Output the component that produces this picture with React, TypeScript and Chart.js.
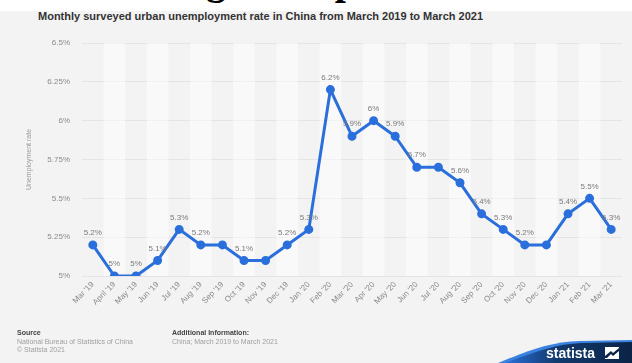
import React, { useEffect, useRef } from "react";
import { Chart, registerables } from "chart.js";

Chart.register(...registerables);

const categories = [
  "Mar '19", "April '19", "May '19", "Jun '19", "Jul '19", "Aug '19", "Sep '19", "Oct '19", "Nov '19",
  "Dec '19", "Jan '20", "Feb '20", "Mar '20", "Apr '20", "May '20", "Jun '20", "Jul '20", "Aug '20",
  "Sep '20", "Oct '20", "Nov '20", "Dec '20", "Jan '21", "Feb '21", "Mar '21",
];
const rates = [
  5.2, 5.0, 5.0, 5.1, 5.3, 5.2, 5.2, 5.1, 5.1, 5.2, 5.3, 6.2, 5.9, 6.0, 5.9, 5.7, 5.7, 5.6, 5.4, 5.3,
  5.2, 5.2, 5.4, 5.5, 5.3,
];
const showLabel = [
  true, true, true, true, true, true, false, true, false, true, true, true, true, true, true, true,
  false, true, true, true, true, false, true, true, true,
];
const yTicks = [5, 5.25, 5.5, 5.75, 6, 6.25, 6.5];

const fmt = (v: number) => `${Number(v.toFixed(2))}%`;

const bandsPlugin = {
  id: "bands",
  beforeDatasetsDraw(chart: any) {
    const { ctx, chartArea, scales } = chart;
    const x = scales.x;
    ctx.save();
    for (let i = 0; i < categories.length; i++) {
      if (i % 2 === 1) {
        const c = x.getPixelForValue(i);
        const w = x.width / categories.length;
        ctx.fillStyle = "rgba(255,255,255,0.5)";
        ctx.fillRect(c - w / 2, chartArea.top, w, chartArea.bottom - chartArea.top);
      }
    }
    ctx.restore();
  },
};

const labelsPlugin = {
  id: "pointLabels",
  afterDatasetsDraw(chart: any) {
    const { ctx } = chart;
    const meta = chart.getDatasetMeta(0);
    ctx.save();
    ctx.font = "8px 'Liberation Sans', Arial, sans-serif";
    ctx.fillStyle = "#7a7a7a";
    ctx.textAlign = "center";
    ctx.textBaseline = "bottom";
    meta.data.forEach((pt: any, i: number) => {
      if (!showLabel[i]) return;
      ctx.fillText(fmt(rates[i]), pt.x, pt.y - 8);
    });
    ctx.restore();
  },
};

function LineChart() {
  const ref = useRef<HTMLCanvasElement>(null);
  useEffect(() => {
    if (!ref.current) return;
    const chart = new Chart(ref.current, {
      type: "line",
      data: {
        labels: categories,
        datasets: [
          {
            data: rates,
            borderColor: "#2a6fdb",
            backgroundColor: "#2a6fdb",
            borderWidth: 3,
            pointRadius: 3,
            pointHoverRadius: 3,
            tension: 0,
          },
        ],
      },
      options: {
        animation: false,
        responsive: false,
        maintainAspectRatio: false,
        layout: { padding: { top: 43, right: 10, left: 0, bottom: 0 } },
        plugins: { legend: { display: false }, tooltip: { enabled: false } },
        scales: {
          x: {
            offset: true,
            grid: { display: false, drawTicks: false },
            border: { display: false },
            ticks: {
              minRotation: 45,
              maxRotation: 45,
              autoSkip: false,
              padding: 4,
              color: "#8a8a8a",
              font: { size: 8, family: "'Liberation Sans', Arial, sans-serif" },
            },
            afterFit(scale: any) {
              scale.height = 87;
            },
          },
          y: {
            min: 5,
            max: 6.5,
            afterBuildTicks(scale: any) {
              scale.ticks = yTicks.map((v) => ({ value: v }));
            },
            grid: { color: "#e4e4e4", drawTicks: false, lineWidth: 1 },
            border: { display: false },
            ticks: {
              padding: 12,
              color: "#8a8a8a",
              font: { size: 8, family: "'Liberation Sans', Arial, sans-serif" },
              callback: (v: any) => fmt(Number(v)),
            },
            title: {
              display: true,
              text: "Unemployment rate",
              color: "#9a9a9a",
              font: { size: 7, family: "'Liberation Sans', Arial, sans-serif" },
              padding: { top: 25, bottom: 0 },
            },
            afterFit(scale: any) {
              scale.width = 82;
            },
          },
        },
      },
      plugins: [bandsPlugin, labelsPlugin],
    });
    return () => chart.destroy();
  }, []);
  return (
    <canvas
      ref={ref}
      width={632}
      height={363}
      style={{ position: "absolute", left: 0, top: 0, width: 632, height: 363 }}
    />
  );
}

export default function App() {
  const sans = "'Liberation Sans', Arial, sans-serif";
  return (
    <div
      style={{
        position: "fixed",
        left: 0,
        top: 0,
        width: 632,
        height: 363,
        overflow: "hidden",
        background: "#ffffff",
      }}
    >
      <div
        style={{
          position: "absolute",
          left: 0,
          top: 0,
          height: 11,
          width: 632,
          overflow: "hidden",
        }}
      >
        <div
          style={{
            position: "absolute",
            left: 0,
            top: -39,
            width: 632,
            height: 40,
            fontFamily: "'Liberation Serif', 'Times New Roman', serif",
            fontWeight: "bold",
            fontSize: 40,
            lineHeight: "40px",
            whiteSpace: "nowrap",
            color: "#000",
          }}
        >
          <span style={{ position: "absolute", right: 632 - 226, top: 0 }}>Chart Rendering</span>
          <span style={{ position: "absolute", left: 268, top: 0 }}>Output</span>
        </div>
      </div>
      <div style={{ position: "absolute", left: 0, top: 11, width: 632, height: 352, background: "#f3f3f3" }} />
      <div
        style={{
          position: "absolute",
          left: 38,
          top: 10,
          fontFamily: sans,
          fontWeight: "bold",
          fontSize: 11,
          color: "#333",
          whiteSpace: "nowrap",
        }}
      >
        Monthly surveyed urban unemployment rate in China from March 2019 to March 2021
      </div>
      <LineChart />
      <div style={{ position: "absolute", left: 17, top: 329, fontFamily: sans, fontSize: 7, lineHeight: "8.5px", whiteSpace: "nowrap" }}>
        <div style={{ color: "#444", fontWeight: "bold" }}>Source</div>
        <div style={{ color: "#a0a0a0" }}>National Bureau of Statistics of China</div>
        <div style={{ color: "#a0a0a0" }}>© Statista 2021</div>
      </div>
      <div style={{ position: "absolute", left: 172, top: 329, fontFamily: sans, fontSize: 7, lineHeight: "8.5px", whiteSpace: "nowrap" }}>
        <div style={{ color: "#444", fontWeight: "bold" }}>Additional Information:</div>
        <div style={{ color: "#a0a0a0" }}>China; March 2019 to March 2021</div>
      </div>
      <svg width={632} height={363} style={{ position: "absolute", left: 0, top: 0 }}>
        <defs>
          <linearGradient id="sg" x1="0" y1="0" x2="1" y2="0">
            <stop offset="0" stopColor="#2a6fdb" />
            <stop offset="0.4" stopColor="#123a6e" />
            <stop offset="1" stopColor="#0b2447" />
          </linearGradient>
        </defs>
        <path d="M 498 363 C 530 350, 550 342, 580 341 L 632 340 L 632 363 Z" fill="#3b82e0" />
        <path d="M 505 363 C 535 352, 555 344, 582 343 L 632 342 L 632 363 Z" fill="url(#sg)" />
        <text x={546} y={358} fill="#ffffff" fontFamily={sans} fontWeight="bold" fontSize={14}>
          statista
        </text>
        <rect x={605} y={347} width={14} height={12} fill="#ffffff" />
        <path d="M 605 356 L 611 351 L 613 353 L 619 348 L 619 351 L 613 356 L 611 354 L 607 358 L 605 358 Z" fill="#0b2447" />
      </svg>
    </div>
  );
}
